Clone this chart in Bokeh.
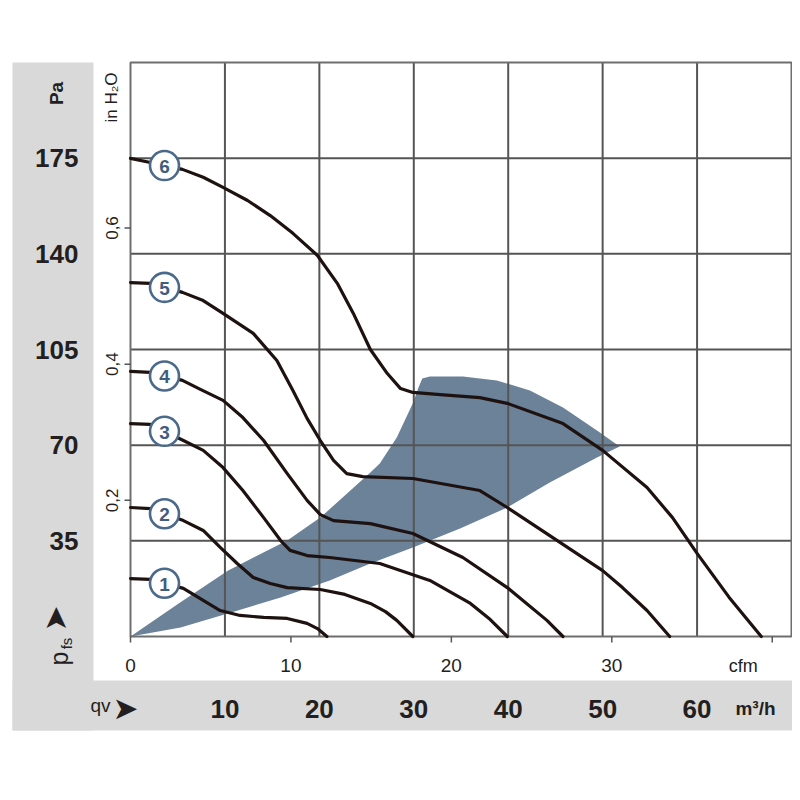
import numpy as np
from bokeh.plotting import figure
from bokeh.models import Range1d
from bokeh.embed import file_html
from bokeh.resources import INLINE
from bokeh.core.properties import value

# ---------------- data (q in m3/h, p in Pa) ----------------
c1_q = [0, 2.1, 5.6, 7.7, 9.5, 11.6, 14.1, 16.6, 18.7, 19.8, 20.8]
c1_p = [21.2, 20.9, 17.6, 13.2, 9.5, 7.7, 7.0, 6.6, 4.8, 2.9, 0]

c2_q = [0, 2.1, 5.6, 7.7, 9.5, 11.3, 13.0, 14.8, 16.6, 20.1, 22.7, 25.4, 27.0, 28.2, 29.9]
c2_p = [47.2, 46.8, 42.4, 38.8, 32.6, 26.7, 21.6, 19.4, 17.9, 17.2, 15.4, 12.1, 9.1, 5.9, 0]

c3_q = [0, 2.1, 5.6, 7.7, 9.8, 11.9, 14.1, 15.9, 16.9, 18.7, 21.1, 26.4, 31.7, 36.0, 38.1, 39.9]
c3_p = [77.9, 77.6, 71.7, 68.1, 61.8, 53.4, 43.5, 35.1, 31.5, 29.6, 28.9, 26.7, 20.5, 12.1, 6.2, 0]

c4_q = [0, 2.1, 5.5, 7.4, 9.8, 11.9, 14.1, 16.6, 18.7, 20.1, 21.5, 25.4, 29.9, 35.2, 39.9, 44.1, 45.8]
c4_p = [97.0, 96.6, 93.7, 90.4, 86.4, 80.1, 71.7, 59.6, 49.8, 44.6, 42.4, 41.3, 37.7, 28.9, 17.9, 5.9, 0]

c5_q = [0, 2.1, 5.5, 7.7, 9.8, 13.0, 15.5, 17.2, 18.7, 20.1, 21.5, 22.9, 24.6, 29.9, 37.0,
        39.9, 45.8, 50.0, 52.1, 54.7, 57.1]
c5_p = [129.5, 129.2, 125.9, 122.9, 118.2, 110.9, 101.0, 90.0, 79.8, 71.7, 64.4, 59.6, 58.5, 57.8, 53.4,
        47.2, 33.7, 24.1, 17.9, 9.5, 0]

c6_q = [0, 2.1, 5.5, 7.7, 9.8, 12.4, 14.8, 17.2, 19.8, 21.9, 23.6, 25.4, 27.2, 28.6, 29.9, 32.8,
        37.0, 39.9, 45.8, 50.0, 54.7, 57.4, 60.0, 63.4, 66.8]
c6_p = [174.9, 173.4, 170.9, 168.0, 164.3, 159.5, 154.0, 147.5, 139.4, 129.2, 118.2, 105.0, 96.2, 90.7, 89.3, 88.5,
        87.4, 85.3, 77.9, 68.1, 54.5, 43.5, 30.4, 14.3, 0]

curve_names = ["1", "2", "3", "4", "5", "6"]

# recommended operating area (shaded)
area_q = [0, 5.1, 10.3, 16.6, 20.1, 25.4, 26.4, 28.2, 29.9, 30.5, 30.9,
          31.7, 35.2, 38.8, 42.3, 45.8, 49.4, 51.8,
          49.4, 44.4, 39.9, 34.9, 29.9, 25.4, 21.1, 15.9, 10.3, 5.3, 0]
area_p = [0, 12.1, 24.1, 35.1, 43.5, 60.0, 63.3, 72.8, 85.3, 91.1, 94.4,
          95.1, 95.1, 93.7, 90.0, 83.8, 75.4, 69.5,
          65.5, 56.3, 47.2, 39.5, 32.6, 26.7, 20.5, 14.3, 8.4, 3.3, 0]

pa_ticks = [35, 70, 105, 140, 175]
m3h_ticks = [10, 20, 30, 40, 50, 60]
cfm_ticks = [0, 10, 20, 30, 40]
cfm_labels = ["0", "10", "20", "30", ""]
inh2o_ticks = [0.2, 0.4, 0.6]
inh2o_labels = ["0,2", "0,4", "0,6"]

PA_PER_INH2O = 249.089
M3H_PER_CFM = 1.699011
Q_MAX = 70.0
P_MAX = 210.0

# ---------------- canvas geometry ----------------
W, H = 792, 740
CL, CR, CT, CB = 130, 791, 62, 636          # chart area inside the canvas (px)
kx = (CR - CL) / Q_MAX                       # px per m3/h
ky = (CB - CT) / P_MAX                       # px per Pa


def cx(px):   # canvas px -> q
    return (px - CL) / kx


def cy(py):   # canvas px -> p
    return (CB - py) / ky


p = figure(width=W, height=H,
           x_range=Range1d(cx(0), cx(W)), y_range=Range1d(cy(H), cy(0)),
           x_axis_location=None, y_axis_location=None,
           toolbar_location=None, output_backend="svg", min_border=0)
p.outline_line_color = None
p.background_fill_color = "white"
p.border_fill_color = "white"
p.grid.visible = False

GRAY = "#d9d9d9"
TXT = "#231f20"
FONT = "Liberation Sans"
GRID = "#555555"

# gray label panels
p.quad(left=[cx(12), cx(12)], right=[cx(93), cx(792)],
       top=[cy(62), cy(680)], bottom=[cy(730), cy(730)],
       fill_color=GRAY, line_color=None)

# shaded operating area
p.patch(area_q, area_p, fill_color="#6b8299", line_color=None)

# grid lines
p.segment(x0=m3h_ticks, y0=0, x1=m3h_ticks, y1=P_MAX, line_color=GRID, line_width=2)
p.segment(x0=0, y0=pa_ticks, x1=Q_MAX, y1=pa_ticks, line_color=GRID, line_width=2)
# frame
p.quad(left=0, right=Q_MAX, bottom=0, top=P_MAX, fill_color=None,
       line_color="#6e6e6e", line_width=2)

# curves
curves = [(c1_q, c1_p), (c2_q, c2_p), (c3_q, c3_p), (c4_q, c4_p), (c5_q, c5_p), (c6_q, c6_p)]
for q, pr in curves:
    p.line(q, pr, line_color="#1e1210", line_width=3.2, line_join="round", line_cap="round")

# curve number badges
badge_q = 3.6
badge_x = [badge_q] * len(curves)
badge_y = [float(np.interp(badge_q, q, pr)) for q, pr in curves]
p.scatter(badge_x, badge_y, marker="circle", size=29, fill_color="white",
          line_color="#4b6a8b", line_width=2.6)
p.text(badge_x, badge_y, text=curve_names, text_align="center", text_baseline="middle",
       text_font=value(FONT), text_font_style="bold", text_font_size="19px",
       text_color="#3f5d7d", y_offset=1)

# ---- Pa scale (left, gray panel)
p.text(x=[0] * len(pa_ticks), y=pa_ticks, text=[str(t) for t in pa_ticks],
       x_offset=-52, text_align="right", text_baseline="middle",
       text_font=value(FONT), text_font_style="bold", text_font_size="26px", text_color=TXT)
p.text(x=[0], y=[P_MAX], text=["Pa"], angle=np.pi / 2, x_offset=-74, y_offset=31,
       text_align="center", text_baseline="middle",
       text_font=value(FONT), text_font_style="bold", text_font_size="19px", text_color=TXT)

# ---- in H2O scale (left, next to the chart)
inh2o_pa = [v * PA_PER_INH2O for v in inh2o_ticks]
p.segment(x0=0, y0=inh2o_pa, x1=cx(CL - 6), y1=inh2o_pa, line_color=GRID, line_width=1.5)
p.text(x=[0] * len(inh2o_pa), y=inh2o_pa, text=inh2o_labels, angle=np.pi / 2,
       x_offset=-19, text_align="center", text_baseline="middle",
       text_font=value(FONT), text_font_size="17px", text_color=TXT)
p.text(x=[0], y=[P_MAX], text=["in H\u2082O"], angle=np.pi / 2, x_offset=-19, y_offset=35,
       text_align="center", text_baseline="middle",
       text_font=value(FONT), text_font_size="17px", text_color=TXT)

# ---- cfm scale (below the chart)
cfm_q = [c * M3H_PER_CFM for c in cfm_ticks]
p.segment(x0=cfm_q, y0=0, x1=cfm_q, y1=cy(CB + 6), line_color=GRID, line_width=1.5)
p.text(x=cfm_q, y=[0] * len(cfm_q), text=cfm_labels, y_offset=29,
       text_align="center", text_baseline="middle",
       text_font=value(FONT), text_font_size="19px", text_color=TXT)
p.text(x=[cfm_q[-1]], y=[0], text=["cfm"], x_offset=-29, y_offset=29,
       text_align="center", text_baseline="middle",
       text_font=value(FONT), text_font_size="18px", text_color=TXT)

# ---- m3/h scale (gray band)
p.text(x=m3h_ticks, y=[0] * len(m3h_ticks), text=[str(t) for t in m3h_ticks], y_offset=72,
       text_align="center", text_baseline="middle",
       text_font=value(FONT), text_font_style="bold", text_font_size="26px", text_color=TXT)
p.text(x=[Q_MAX], y=[0], text=["m\u00b3/h"], x_offset=-36, y_offset=72,
       text_align="center", text_baseline="middle",
       text_font=value(FONT), text_font_style="bold", text_font_size="19px", text_color=TXT)

# ---- axis symbols with arrows
p.text(x=[0], y=[0], text=["qv"], x_offset=-30, y_offset=69,
       text_align="center", text_baseline="middle",
       text_font=value(FONT), text_font_size="19px", text_color=TXT)
p.text(x=[0], y=[0], text=["\u27a4"], x_offset=-5, y_offset=71,
       text_align="center", text_baseline="middle",
       text_font=value("DejaVu Sans"), text_font_size="31px", text_color=TXT)
p.text(x=[0], y=[0], text=["\u27a4"], angle=np.pi / 2, x_offset=-76, y_offset=-18,
       text_align="center", text_baseline="middle",
       text_font=value("DejaVu Sans"), text_font_size="31px", text_color=TXT)
p.text(x=[0], y=[0], text=["p"], angle=np.pi / 2, x_offset=-72, y_offset=22,
       text_align="center", text_baseline="middle",
       text_font=value(FONT), text_font_size="25px", text_color=TXT)
p.text(x=[0], y=[0], text=["fs"], angle=np.pi / 2, x_offset=-64, y_offset=7,
       text_align="center", text_baseline="middle",
       text_font=value(FONT), text_font_size="15px", text_color=TXT)

open("out.html", "w").write(file_html(p, INLINE))
